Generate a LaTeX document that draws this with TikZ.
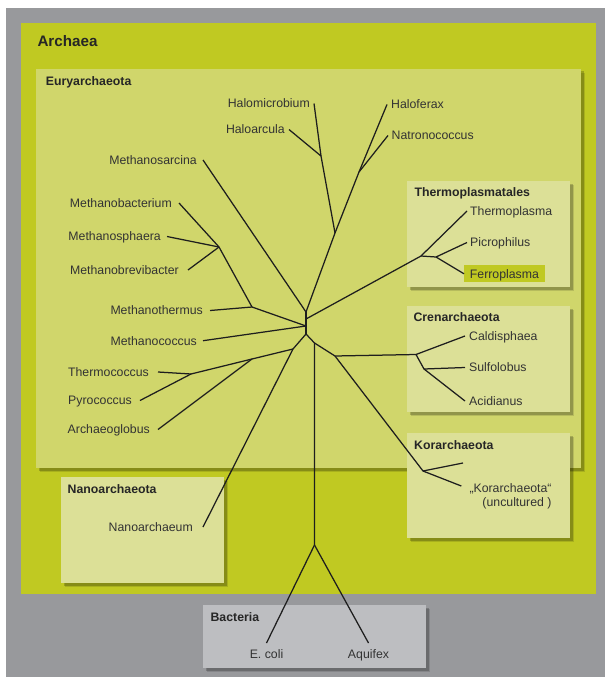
\documentclass[tikz,border=0pt]{standalone}
\usepackage{fontspec}
\setsansfont{Liberation Sans}
\usetikzlibrary{positioning, shadows}
\definecolor{cframe}{HTML}{98999C}
\definecolor{carchaea}{HTML}{C0C922}
\definecolor{ceury}{HTML}{D0D66B}
\definecolor{cclade}{HTML}{DCE097}
\definecolor{cbact}{HTML}{BDBEC1}
\definecolor{cink}{HTML}{333333}
\definecolor{cline}{HTML}{1E1E1E}
\tikzset{
  every picture/.style={font=\sffamily, x=1pt, y=-1pt},
  panel/.style={fill=#1,
    drop shadow={shadow xshift=4pt, shadow yshift=-4pt, opacity=.12, fill=black},
    drop shadow={shadow xshift=2.5pt, shadow yshift=-2.5pt, opacity=.2, fill=black}},
  panel/.default=cclade,
  branch/.style={draw=cline, line width=1.25pt, line join=round},
  leaf/.style={font=\sffamily\fontsize{12.3}{14.6}\selectfont, text=cink, inner ysep=0pt, text height=8.8pt, text depth=0pt},
  clade/.style={font=\sffamily\bfseries\fontsize{12.3}{14.6}\selectfont, text=black!85, inner sep=0pt, anchor=base west},
}

\begin{document}
\begin{tikzpicture}
  \useasboundingbox (0,0) rectangle (605,677);
  \fill[cframe] (6,8) rectangle (605,677);
  \fill[carchaea] (21,23) rectangle (596,594);
  \fill[panel=ceury] (36,69) rectangle (581,468);
  \fill[panel] (61,477) rectangle (224,583);
  \fill[panel=cbact] (203,605) rectangle (426,668);
  \fill[panel] (407,181) rectangle (570,287);
  \fill[panel] (407,306) rectangle (570,412);
  \fill[panel] (407,433) rectangle (570,538);

  \node[clade, font=\sffamily\bfseries\fontsize{15.2}{18}\selectfont] (archaea) at (37.3,46.7) {Archaea};
  \node[clade] (eury) at (45.7,85) {Euryarchaeota};
  \node[clade] (thermopl) at (414.3,196) {Thermoplasmatales};
  \node[clade] (cren) at (413.3,321.7) {Crenarchaeota};
  \node[clade] (kor) at (414,449) {Korarchaeota};
  \node[clade] (nano) at (67.5,493.3) {Nanoarchaeota};
  \node[clade] (bact) at (210.4,621) {Bacteria};

  \foreach \t/\x/\y/\g in {Halomicrobium/314/103.5/4, Haloarcula/289/129.5/4, Methanosarcina/203/160/6,
    Methanobacterium/179/203/7, Methanosphaera/167/236.5/6, Methanobrevibacter/188/270/9,
    Methanothermus/210/310.5/7, Methanococcus/203/340.7/6, Thermococcus/158/372/9,
    Pyrococcus/140/400.5/8, Archaeoglobus/158/429.5/8, Nanoarchaeum/203/527/10}
    \node[leaf, anchor=east, inner xsep=\g pt] (\t) at (\x,\y) {\t};
  \foreach \t/\x/\y/\g in {Haloferax/387/104.5/4, Natronococcus/388/135.5/3.5, Thermoplasma/467/211/3,
    Picrophilus/467/242.5/3, Caldisphaea/465/336/4, Sulfolobus/465/367.5/4, Acidianus/465/401/4}
    \node[leaf, anchor=west, inner xsep=\g pt] (\t) at (\x,\y) {\t};
  \node[leaf, anchor=west, fill=carchaea, inner xsep=5.7pt, minimum height=17pt] (Ferroplasma) at (464,273.8) {Ferroplasma};
  \node[font=\sffamily\fontsize{12.3}{14.6}\selectfont, text=cink, align=right, inner sep=0pt, anchor=north west] (Korleaf) at (469.3,483) {„Korarchaeota“\\(uncultured )};
  \node[leaf, anchor=north, inner ysep=6pt] (Ecoli) at (266.5,643) {E. coli};
  \node[leaf, anchor=north, inner ysep=6pt] (Aquifex) at (368.5,643) {Aquifex};

  \coordinate (vtop) at (306,312);
  \coordinate (vthp) at (306,319);
  \coordinate (vmeth) at (306,326);
  \coordinate (vbot) at (306,334);
  \coordinate (halo) at (335,233);
  \coordinate (haloL) at (321,156);
  \coordinate (haloR) at (359,172);
  \coordinate (thp) at (421,256);
  \coordinate (thpB) at (436,257);
  \coordinate (mth) at (252,307);
  \coordinate (mbac) at (219,247);
  \coordinate (nb) at (293,349);
  \coordinate (arg) at (252,359);
  \coordinate (pyr) at (191,374);
  \coordinate (rt) at (314.5,343);
  \coordinate (crk) at (335,356);
  \coordinate (cren0) at (416,354.5);
  \coordinate (cren1) at (424,369);
  \coordinate (kor0) at (423,471);
  \coordinate (kor1) at (463,463);
  \coordinate (root) at (314.5,545);

  \draw[branch] (vtop) -- (vbot);
  \draw[branch] (vtop) -- (Methanosarcina.east);
  \draw[branch] (vtop) -- (halo) -- (haloL) -- (Halomicrobium.east);
  \draw[branch] (haloL) -- (Haloarcula.east);
  \draw[branch] (halo) -- (haloR) -- (Haloferax.west);
  \draw[branch] (haloR) -- (Natronococcus.west);
  \draw[branch] (vthp) -- (thp) -- (Thermoplasma.west);
  \draw[branch] (thp) -- (thpB) -- (Picrophilus.west);
  \draw[branch] (thpB) -- (Ferroplasma.west);
  \draw[branch] (vmeth) -- (Methanococcus.east);
  \draw[branch] (vmeth) -- (mth) -- (Methanothermus.east);
  \draw[branch] (mth) -- (mbac) -- (Methanobacterium.east);
  \draw[branch] (mbac) -- (Methanosphaera.east);
  \draw[branch] (mbac) -- (Methanobrevibacter.east);
  \draw[branch] (vbot) -- (nb) -- (Nanoarchaeum.east);
  \draw[branch] (nb) -- (arg) -- (pyr) -- (Thermococcus.east);
  \draw[branch] (arg) -- (Archaeoglobus.east);
  \draw[branch] (pyr) -- (Pyrococcus.east);
  \draw[branch] (vbot) -- (rt) -- (root);
  \draw[branch] (rt) -- (crk) -- (cren0) -- (Caldisphaea.west);
  \draw[branch] (cren0) -- (cren1) -- (Sulfolobus.west);
  \draw[branch] (cren1) -- (Acidianus.west);
  \draw[branch] (crk) -- (kor0) -- (kor1);
  \draw[branch] (kor0) -- ([shift={(-8,3)}]Korleaf.north west);
  \draw[branch] (root) -- (Ecoli.north);
  \draw[branch] (root) -- (Aquifex.north);
\end{tikzpicture}
\end{document}
